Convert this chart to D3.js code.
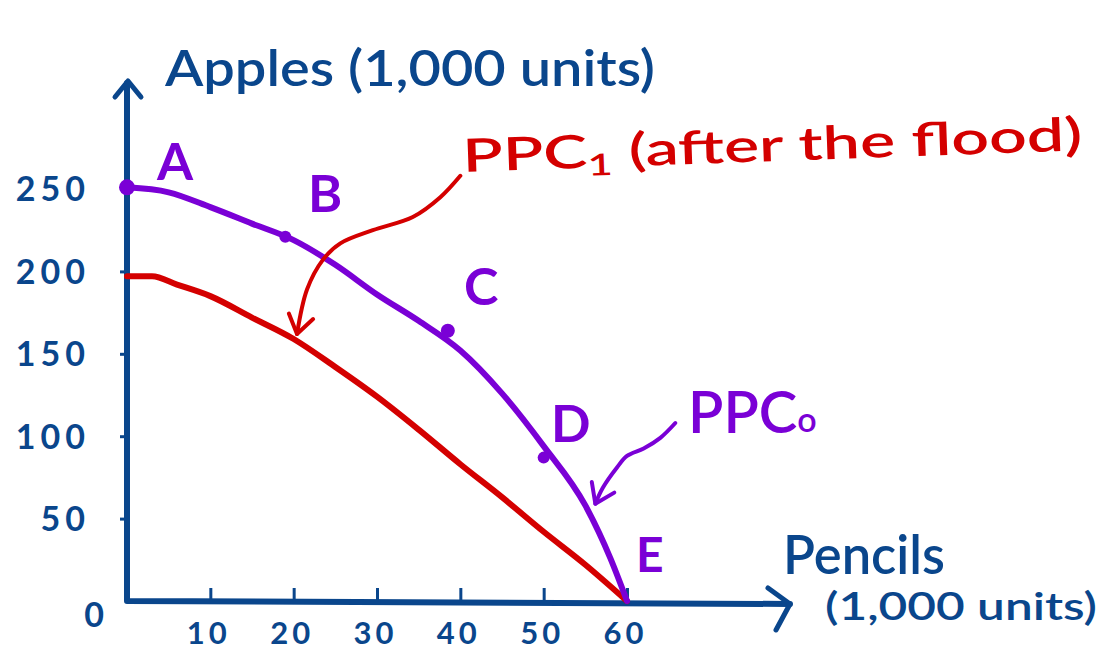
<!DOCTYPE html>
<html>
<head>
<meta charset="utf-8">
<script src="https://cdn.jsdelivr.net/npm/d3@7/dist/d3.min.js"></script>
<style>
  html, body { margin: 0; padding: 0; background: #fff; }
  svg { display: block; }
  text { font-family: Lato, "Open Sans", sans-serif; }
</style>
</head>
<body>
<svg id="chart" width="1102" height="652"></svg>
<script>
// ---------- DATA ----------
const xTicks = [10, 20, 30, 40, 50, 60];
const xTickLabels = ["10", "20", "30", "40", "50", "60"];
const yTicks = [250, 200, 150, 100, 50, 0];
const yTickLabels = ["250", "200", "150", "100", "50", "0"];

// PPC0 (before the flood), pencils vs apples (1,000 units)
const ppc0Pencils = [0, 5, 10, 15, 20, 25, 30, 35, 40, 45, 50, 55, 58, 60];
const ppc0Apples  = [251, 248, 239, 229, 219, 204, 186, 170, 152, 126, 94, 58, 26, 0];

// PPC1 (after the flood)
const ppc1Pencils = [0, 3, 6, 10, 15, 20, 25, 30, 35, 40, 45, 50, 55, 60];
const ppc1Apples  = [197, 197, 192, 185, 172, 159, 142, 124, 104, 83, 63, 42, 22, 0];

// Labelled points on PPC0
const pointNames   = ["A", "B", "C", "D"];
const pointPencils = [0, 19, 38.5, 50];
const pointApples  = [251, 221, 164, 87];

// Annotation arrows (data units)
const arrow1Pencils = [40, 37.6, 34.3, 29.5, 25.6, 23.5, 21.6, 20.4];
const arrow1Apples  = [258, 245, 233, 225, 217, 207, 189, 162];
const arrow0Pencils = [65.8, 64, 62, 60, 58.8, 57.1, 56.2];
const arrow0Apples  = [108, 99, 92.5, 88, 81, 68.7, 59];

// ---------- LAYOUT ----------
const BLUE = "#0a468c", PURPLE = "#7a00d6", RED = "#d40000";
const svg = d3.select("#chart");
const x = d3.scaleLinear().domain([0, 60]).range([127, 627]);
const y = d3.scaleLinear().domain([0, 250]).range([601, 189]);
const X0 = x(0), Y0 = y(0);

// axes lines with arrows
const axisG = svg.append("g").attr("stroke", BLUE).attr("fill", "none")
  .attr("stroke-linecap", "round").attr("stroke-linejoin", "round");
axisG.append("path").attr("stroke-width", 6)
  .attr("d", `M${X0},${Y0} L${X0},83 M${X0},${Y0} L790,${Y0 + 3}`);
axisG.append("path").attr("stroke-width", 5)
  .attr("d", `M115,97 L${X0 + 1},81 L141,97`);
axisG.append("path").attr("stroke-width", 5)
  .attr("d", `M768,588 L790,${Y0 + 3} L776,630`);

// x axis ticks & labels
const xAxis = d3.axisBottom(x).tickValues(xTicks)
  .tickFormat((d, i) => xTickLabels[i]).tickSizeInner(-13).tickSizeOuter(0).tickPadding(0);
const gx = svg.append("g").attr("transform", `translate(0,${Y0})`).call(xAxis);
gx.select(".domain").remove();
gx.selectAll(".tick line").attr("stroke", BLUE).attr("stroke-width", 3);
gx.selectAll(".tick text").attr("fill", BLUE).attr("dy", null).attr("y", 43)
  .attr("font-size", 31).attr("font-weight", 700).attr("letter-spacing", 4)
  .attr("dx", -2);

// y axis ticks & labels
const yAxis = d3.axisLeft(y).tickValues(yTicks)
  .tickFormat((d, i) => yTickLabels[i]).tickSizeInner(7).tickSizeOuter(0).tickPadding(30);
const gy = svg.append("g").attr("transform", `translate(${X0},0)`).call(yAxis);
gy.select(".domain").remove();
gy.selectAll(".tick line").attr("stroke", BLUE).attr("stroke-width", 3)
  .filter(d => d === 0).remove();
gy.selectAll(".tick text").attr("fill", BLUE)
  .attr("font-size", 34).attr("font-weight", 700).attr("letter-spacing", 5)
  .attr("dy", "0.35em");
gy.selectAll(".tick").filter(d => d === 0).select("text")
  .attr("x", -18).attr("dy", "0.75em");

// curves
const line = d3.line().x(d => x(d[0])).y(d => y(d[1])).curve(d3.curveMonotoneX);
svg.append("path")
  .datum(ppc1Pencils.map((p, i) => [p, ppc1Apples[i]]))
  .attr("d", line).attr("fill", "none").attr("stroke", RED).attr("stroke-width", 6)
  .attr("stroke-linecap", "round");
svg.append("path")
  .datum(ppc0Pencils.map((p, i) => [p, ppc0Apples[i]]))
  .attr("d", line).attr("fill", "none").attr("stroke", PURPLE).attr("stroke-width", 6)
  .attr("stroke-linecap", "round");

// points
const pts = pointNames.map((n, i) => ({ n, px: pointPencils[i], ap: pointApples[i] }));
const radii = [8, 6, 7, 6];
svg.selectAll("circle.pt").data(pts).join("circle").attr("class", "pt")
  .attr("cx", d => x(d.px)).attr("cy", d => y(d.ap))
  .attr("r", (d, i) => radii[i]).attr("fill", PURPLE);

// point letters
const letterPos = { A: [157, 180], B: [308, 212], C: [464, 305], D: [551, 442], E: [636, 572] };
const letters = ["A", "B", "C", "D", "E"];
svg.selectAll("text.lt").data(letters).join("text").attr("class", "lt")
  .attr("x", d => letterPos[d][0]).attr("y", d => letterPos[d][1])
  .attr("fill", PURPLE).attr("font-size", d => d === "E" ? 48 : 52).attr("font-weight", 700)
  .text(d => d);

// annotation arrows
const aLine = d3.line().x(d => x(d[0])).y(d => y(d[1])).curve(d3.curveCatmullRom.alpha(0.5));
function drawArrow(px, ap, color) {
  const pts = px.map((p, i) => [p, ap[i]]);
  const g = svg.append("g").attr("fill", "none").attr("stroke", color)
    .attr("stroke-width", 4).attr("stroke-linecap", "round").attr("stroke-linejoin", "round");
  g.append("path").datum(pts).attr("d", aLine);
  const tip = pts[pts.length - 1], prev = pts[pts.length - 2];
  const tx = x(tip[0]), ty = y(tip[1]);
  const ang = Math.atan2(ty - y(prev[1]), tx - x(prev[0]));
  const L = 22, spread = 0.6;
  const a1 = [tx - L * Math.cos(ang - spread), ty - L * Math.sin(ang - spread)];
  const a2 = [tx - L * Math.cos(ang + spread), ty - L * Math.sin(ang + spread)];
  g.append("path").attr("d", `M${a1[0]},${a1[1]} L${tx},${ty} L${a2[0]},${a2[1]}`);
}
drawArrow(arrow1Pencils, arrow1Apples, RED);
drawArrow(arrow0Pencils, arrow0Apples, PURPLE);

// titles
svg.append("text").attr("x", 165).attr("y", 86).attr("fill", BLUE)
  .attr("font-size", 50).attr("font-weight", 600)
  .attr("textLength", 490).attr("lengthAdjust", "spacingAndGlyphs")
  .text("Apples (1,000 units)");

const t1 = svg.append("text").attr("transform", "translate(463,172) rotate(-2)")
  .attr("fill", RED).attr("font-size", 46).attr("font-weight", 600)
  .attr("textLength", 620).attr("lengthAdjust", "spacingAndGlyphs");
t1.append("tspan").text("PPC");
t1.append("tspan").attr("font-size", 30).attr("dy", 8).text("1");
t1.append("tspan").attr("dy", -8).text(" (after the flood)");

const t0 = svg.append("text").attr("x", 688).attr("y", 433).attr("fill", PURPLE)
  .attr("font-size", 58).attr("font-weight", 600);
t0.append("tspan").text("PPC");
t0.append("tspan").attr("font-size", 34).attr("dy", -1).text("o");

svg.append("text").attr("x", 783).attr("y", 574).attr("fill", BLUE)
  .attr("font-size", 54).attr("font-weight", 600)
  .attr("textLength", 162).attr("lengthAdjust", "spacingAndGlyphs")
  .text("Pencils");
svg.append("text").attr("x", 825).attr("y", 620).attr("fill", BLUE)
  .attr("font-size", 38).attr("font-weight", 600)
  .attr("textLength", 272).attr("lengthAdjust", "spacingAndGlyphs")
  .text("(1,000 units)");
</script>
</body>
</html>
